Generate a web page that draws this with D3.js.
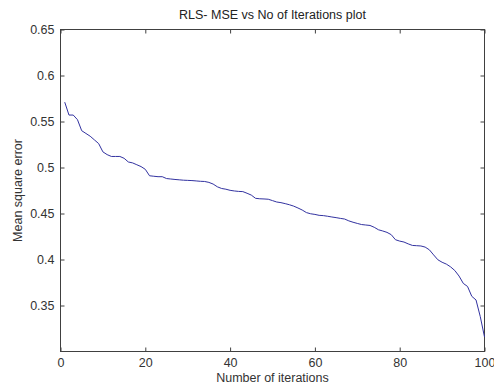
<!DOCTYPE html>
<html>
<head>
<meta charset="utf-8">
<script src="https://cdn.jsdelivr.net/npm/d3@7"></script>
<style>
  body { margin: 0; background: #fff; }
  svg { display: block; font-family: "Liberation Sans", Arial, sans-serif; }
  .axis text { fill: #333; font-size: 12.5px; }
  .axis line { stroke: #404040; }
</style>
</head>
<body>
<svg id="chart" width="494" height="389"></svg>
<script>
// iterations 1..100
var iterations = d3.range(1, 101);
var mse = [
    0.571, 0.557, 0.557, 0.552, 0.540, 0.537, 0.534, 0.530, 0.526, 0.517,
    0.514, 0.512, 0.512, 0.512, 0.510, 0.506, 0.505, 0.503, 0.501, 0.498,
    0.491, 0.4905, 0.490, 0.490, 0.488, 0.4875, 0.487, 0.4866, 0.4862, 0.486,
    0.4858, 0.4854, 0.485, 0.4848, 0.4838, 0.482, 0.479, 0.4772, 0.4764, 0.4752,
    0.4745, 0.474, 0.4738, 0.472, 0.470, 0.4665, 0.466, 0.4658, 0.4655, 0.464,
    0.4625, 0.4618, 0.4607, 0.4595, 0.458, 0.456, 0.4538, 0.451, 0.4497, 0.449,
    0.448, 0.4477, 0.447, 0.4462, 0.4455, 0.4447, 0.444, 0.442, 0.4405, 0.4392,
    0.438, 0.4375, 0.437, 0.435, 0.4323, 0.431, 0.4295, 0.427, 0.4215, 0.420,
    0.419, 0.417, 0.4153, 0.415, 0.4147, 0.4135, 0.4105, 0.405, 0.3997, 0.397,
    0.395, 0.392, 0.388, 0.382, 0.374, 0.3707, 0.360, 0.356, 0.338, 0.3158
];
var xTicks = [0, 20, 40, 60, 80, 100];
var yTicks = [0.35, 0.4, 0.45, 0.5, 0.55, 0.6, 0.65];

var titleText = "RLS- MSE vs No of Iterations plot";
var xLabel = "Number of iterations";
var yLabel = "Mean square error";

var svg = d3.select("#chart");
var plotLeft = 60.5, plotRight = 484.5, plotTop = 29.5, plotBottom = 351.5;

var x = d3.scaleLinear().domain([0, 100]).range([plotLeft, plotRight]);
var y = d3.scaleLinear().domain([0.3, 0.65]).range([plotBottom, plotTop]);

// box
svg.append("rect")
    .attr("x", plotLeft).attr("y", plotTop)
    .attr("width", plotRight - plotLeft).attr("height", plotBottom - plotTop)
    .attr("fill", "#fff")
    .attr("stroke", "#404040")
    .attr("stroke-width", 1);

function noDomain(g) { g.select(".domain").remove(); }

svg.append("g").attr("class", "axis")
    .attr("transform", "translate(0," + plotBottom + ")")
    .call(d3.axisBottom(x).tickValues(xTicks).tickSize(-4).tickPadding(7).tickFormat(d3.format("d")))
    .call(noDomain);

svg.append("g").attr("class", "axis")
    .attr("transform", "translate(0," + plotTop + ")")
    .call(d3.axisTop(x).tickValues(xTicks).tickSize(-4).tickFormat(""))
    .call(noDomain);

svg.append("g").attr("class", "axis")
    .attr("transform", "translate(" + plotLeft + ",0)")
    .call(d3.axisLeft(y).tickValues(yTicks).tickSize(-4).tickPadding(6).tickFormat(d => String(+d.toFixed(2))))
    .call(noDomain);

svg.append("g").attr("class", "axis")
    .attr("transform", "translate(" + plotRight + ",0)")
    .call(d3.axisRight(y).tickValues(yTicks).tickSize(-4).tickFormat(""))
    .call(noDomain);

var line = d3.line()
    .x((d, i) => x(iterations[i]))
    .y(d => y(d));

svg.append("path")
    .datum(mse)
    .attr("fill", "none")
    .attr("stroke", "#3232a0")
    .attr("stroke-width", 1)
    .attr("d", line);

svg.append("text")
    .attr("x", (plotLeft + plotRight) / 2)
    .attr("y", 19)
    .attr("text-anchor", "middle")
    .attr("fill", "#222")
    .style("font-size", "12.5px")
    .text(titleText);

svg.append("text")
    .attr("x", (plotLeft + plotRight) / 2)
    .attr("y", 382)
    .attr("text-anchor", "middle")
    .attr("fill", "#333")
    .style("font-size", "12.5px")
    .text(xLabel);

svg.append("text")
    .attr("transform", "translate(22," + (plotTop + plotBottom) / 2 + ") rotate(-90)")
    .attr("text-anchor", "middle")
    .attr("fill", "#333")
    .style("font-size", "12.5px")
    .text(yLabel);
</script>
</body>
</html>
